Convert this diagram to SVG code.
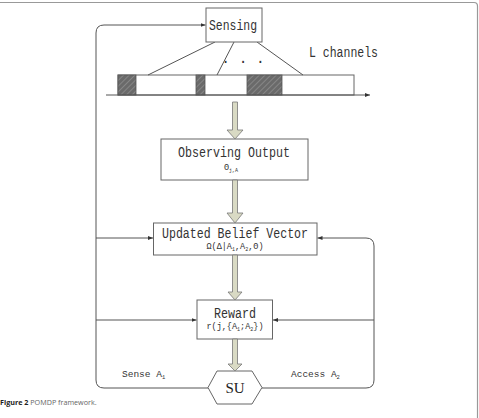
<svg xmlns="http://www.w3.org/2000/svg" width="479" height="418" viewBox="0 0 479 418">
<defs>
<style>
.box{fill:#fff;stroke:#666;stroke-width:1}
.ln{fill:none;stroke:#555;stroke-width:1}
.blk{fill:#d9dac4;stroke:#777;stroke-width:0.8}
.t{font-family:"Liberation Mono",monospace;fill:#333}
.big{font-size:14.5px}
.sm{font-size:8.5px}
.cap{font-family:"Open Sans","Liberation Sans",sans-serif;font-size:7.2px}
</style>
<pattern id="hatch" patternUnits="userSpaceOnUse" width="4" height="4" patternTransform="rotate(45)">
<rect width="4" height="4" fill="#6a6a6a"/>
<line x1="0" y1="0" x2="0" y2="4" stroke="#999" stroke-width="1.2"/>
</pattern>
<marker id="ah" markerWidth="6" markerHeight="6" refX="5" refY="3" orient="auto" markerUnits="userSpaceOnUse">
<path d="M0,1 L5,3 L0,5 Z" fill="#333"/>
</marker>
</defs>
<rect width="479" height="418" fill="#fff"/>
<path d="M0,2.5 H474 Q477.5,2.5 477.5,6 V418" fill="none" stroke="#999" stroke-width="1.2"/>

<g id="channels">
<rect x="118" y="75" width="236" height="20" class="box"/>
<rect x="118" y="75" width="18" height="20" fill="url(#hatch)" stroke="#555" stroke-width="0.8"/>
<rect x="196" y="75" width="9" height="20" fill="url(#hatch)" stroke="#555" stroke-width="0.8"/>
<rect x="247" y="75" width="35" height="20" fill="url(#hatch)" stroke="#555" stroke-width="0.8"/>
<line x1="106" y1="95" x2="370" y2="95" class="ln" marker-end="url(#ah)"/>
<line x1="215" y1="42" x2="148" y2="75" class="ln"/>
<line x1="234" y1="42" x2="217" y2="75" class="ln"/>
<line x1="257" y1="42" x2="303" y2="75" class="ln"/>
<text x="243" y="63" class="t big" text-anchor="middle">. . .</text>
<text x="309" y="57" class="t big" textLength="69" lengthAdjust="spacingAndGlyphs">L channels</text>
</g>

<g id="sensing">
<rect x="206" y="8" width="56" height="34" class="box"/>
<text x="233" y="30" class="t big" text-anchor="middle" textLength="48" lengthAdjust="spacingAndGlyphs">Sensing</text>
</g>

<g id="observing">
<rect x="161" y="139" width="147" height="41" class="box"/>
<text x="234" y="157" class="t big" text-anchor="middle" textLength="112" lengthAdjust="spacingAndGlyphs">Observing Output</text>
<text x="231" y="170" class="t sm" text-anchor="middle">Θ<tspan font-size="5" dy="1.5">j,A</tspan></text>
</g>

<g id="belief">
<rect x="153.5" y="223" width="163.5" height="32" class="box"/>
<text x="235" y="238" class="t big" text-anchor="middle" textLength="146" lengthAdjust="spacingAndGlyphs">Updated Belief Vector</text>
<text x="235" y="249" class="t sm" text-anchor="middle">Ω(Δ|A<tspan font-size="5" dy="1.5">1</tspan><tspan dy="-1.5">,A</tspan><tspan font-size="5" dy="1.5">2</tspan><tspan dy="-1.5">,Θ)</tspan></text>
</g>

<g id="reward">
<rect x="197" y="300" width="75.5" height="39" class="box"/>
<text x="235" y="318" class="t big" text-anchor="middle" textLength="42" lengthAdjust="spacingAndGlyphs">Reward</text>
<text x="235" y="329" class="t sm" text-anchor="middle">r(j,{A<tspan font-size="5" dy="1.5">1</tspan><tspan dy="-1.5">;A</tspan><tspan font-size="5" dy="1.5">2</tspan><tspan dy="-1.5">})</tspan></text>
</g>

<g id="su">
<polygon points="208,387.5 217,371 252,371 262,387.5 252,404 217,404" class="box"/>
<text x="235" y="393" font-family="Liberation Serif,serif" font-size="15" fill="#222" text-anchor="middle">SU</text>
</g>

<g id="connectors">
<polygon class="blk" points="232.5,102 237.5,102 237.5,130 243,130 235,139 227,130 232.5,130"/>
<polygon class="blk" points="232.5,180 237.5,180 237.5,213 243,213 235,223 227,213 232.5,213"/>
<polygon class="blk" points="232.5,255 237.5,255 237.5,292 242,292 235,300 228,292 232.5,292"/>
<polygon class="blk" points="232.5,339 237.5,339 237.5,364 242,364 235,371 228,364 232.5,364"/>
<path d="M208,388 H104 Q96,388 96,380 V33 Q96,25 104,25 H205.5" class="ln" marker-end="url(#ah)"/>
<path d="M262,388 H366 Q374,388 374,380 V246 Q374,238 366,238 H317.5" class="ln" marker-end="url(#ah)"/>
<line x1="96" y1="238" x2="153" y2="238" class="ln" marker-end="url(#ah)"/>
<line x1="96" y1="320" x2="196.5" y2="320" class="ln" marker-end="url(#ah)"/>
<line x1="374" y1="320" x2="273" y2="320" class="ln" marker-end="url(#ah)"/>
<text x="122" y="377" class="t" font-size="9.5">Sense A<tspan font-size="5.5" dy="1.5">1</tspan></text>
<text x="291" y="377" class="t" font-size="9.5">Access A<tspan font-size="5.5" dy="1.5">2</tspan></text>
</g>

<text x="0" y="405" class="cap"><tspan font-weight="bold" fill="#222">Figure 2</tspan><tspan fill="#666"> POMDP framework.</tspan></text>
</svg>
